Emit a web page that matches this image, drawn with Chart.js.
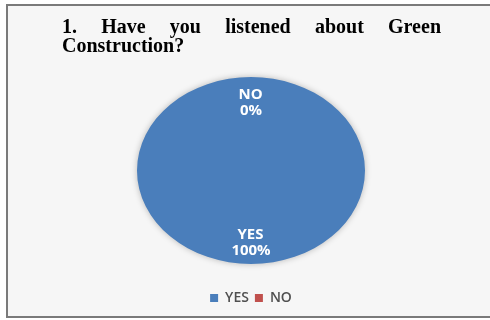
<!DOCTYPE html>
<html>
<head>
<meta charset="utf-8">
<script src="https://cdn.jsdelivr.net/npm/chart.js@4.4.0/dist/chart.umd.min.js"></script>
<style>
  html, body { margin: 0; padding: 0; background: #ffffff; overflow: hidden; }
  #pieChart { display: block; }
</style>
</head>
<body>
<canvas id="pieChart" width="490" height="320"></canvas>
<script>
// survey answers
const answerLabels = ['YES', 'NO'];
const answerValues = [100, 0];
const answerColors = ['#4a7ebb', '#c0504d'];
const titleLines = [['1.', 'Have', 'you', 'listened', 'about', 'Green'], ['Construction?']];

// pie is drawn squashed vertically, like the original sheet
const ySquash = 0.82;

const total = answerValues.reduce((a, b) => a + b, 0);

const framePlugin = {
    id: 'frame',
    beforeDraw(chart) {
        const ctx = chart.ctx;
        ctx.save();
        ctx.fillStyle = '#ffffff';
        ctx.fillRect(0, 0, chart.width, chart.height);
        ctx.fillStyle = '#f6f6f6';
        ctx.fillRect(8, 6, chart.width - 8, 311);
        ctx.strokeStyle = '#7a7a7a';
        ctx.lineWidth = 2;
        ctx.beginPath();
        ctx.moveTo(chart.width + 5, 5);
        ctx.lineTo(7, 5);
        ctx.lineTo(7, 317);
        ctx.lineTo(chart.width + 5, 317);
        ctx.stroke();
        ctx.restore();
    }
};

const titlePlugin = {
    id: 'justifiedTitle',
    afterDraw(chart) {
        const ctx = chart.ctx;
        const left = 62, right = 441;
        ctx.save();
        ctx.font = 'bold 20px "Liberation Serif", "Times New Roman", serif';
        ctx.fillStyle = '#000000';
        ctx.textBaseline = 'alphabetic';
        // first line is justified edge to edge, the last one left aligned
        const words = titleLines[0];
        const used = words.reduce((s, w) => s + ctx.measureText(w).width, 0);
        const gap = (right - left - used) / (words.length - 1);
        let x = left;
        words.forEach(w => {
            ctx.fillText(w, x, 33);
            x += ctx.measureText(w).width + gap;
        });
        ctx.fillText(titleLines[1].join(' '), left, 52);
        ctx.restore();
    }
};

const ellipsePlugin = {
    id: 'ellipse',
    beforeDatasetsDraw(chart) {
        const arc = chart.getDatasetMeta(0).data[0];
        const ctx = chart.ctx;
        ctx.save();
        ctx.translate(arc.x, arc.y);
        ctx.scale(1, ySquash);
        ctx.translate(-arc.x, -arc.y);
        ctx.shadowColor = 'rgba(0,0,0,0.25)';
        ctx.shadowBlur = 6;
    },
    afterDatasetsDraw(chart) {
        chart.ctx.restore();
        // value labels, placed along the squashed radius
        const ctx = chart.ctx;
        ctx.save();
        ctx.fillStyle = '#ffffff';
        ctx.font = 'bold 15px "Open Sans", "DejaVu Sans", sans-serif';
        ctx.textAlign = 'center';
        ctx.textBaseline = 'middle';
        chart.getDatasetMeta(0).data.forEach((el, i) => {
            const mid = (el.startAngle + el.endAngle) / 2;
            const r = el.outerRadius * 0.75;
            const x = el.x + Math.cos(mid) * r;
            const y = el.y + Math.sin(mid) * r * ySquash + 2;
            const pct = Math.round(answerValues[i] / total * 100) + '%';
            ctx.fillText(answerLabels[i], x - 0.5, y - 8);
            ctx.fillText(pct, x, y + 8);
        });
        ctx.restore();
    }
};

const ctx = document.getElementById('pieChart').getContext('2d');
new Chart(ctx, {
    type: 'pie',
    data: {
        labels: answerLabels,
        datasets: [{
            data: answerValues,
            backgroundColor: answerColors,
            borderWidth: 0
        }]
    },
    options: {
        responsive: false,
        maintainAspectRatio: false,
        animation: false,
        layout: {
            padding: { left: 137, right: 125, top: 56, bottom: 5 }
        },
        plugins: {
            title: { display: false },
            tooltip: { enabled: false },
            legend: {
                position: 'bottom',
                labels: {
                    boxWidth: 8,
                    boxHeight: 8,
                    padding: 6,
                    color: '#505050',
                    font: { family: '"Open Sans", "DejaVu Sans", sans-serif', size: 14, weight: '600' }
                }
            }
        }
    },
    plugins: [framePlugin, ellipsePlugin, titlePlugin]
});
</script>
</body>
</html>
